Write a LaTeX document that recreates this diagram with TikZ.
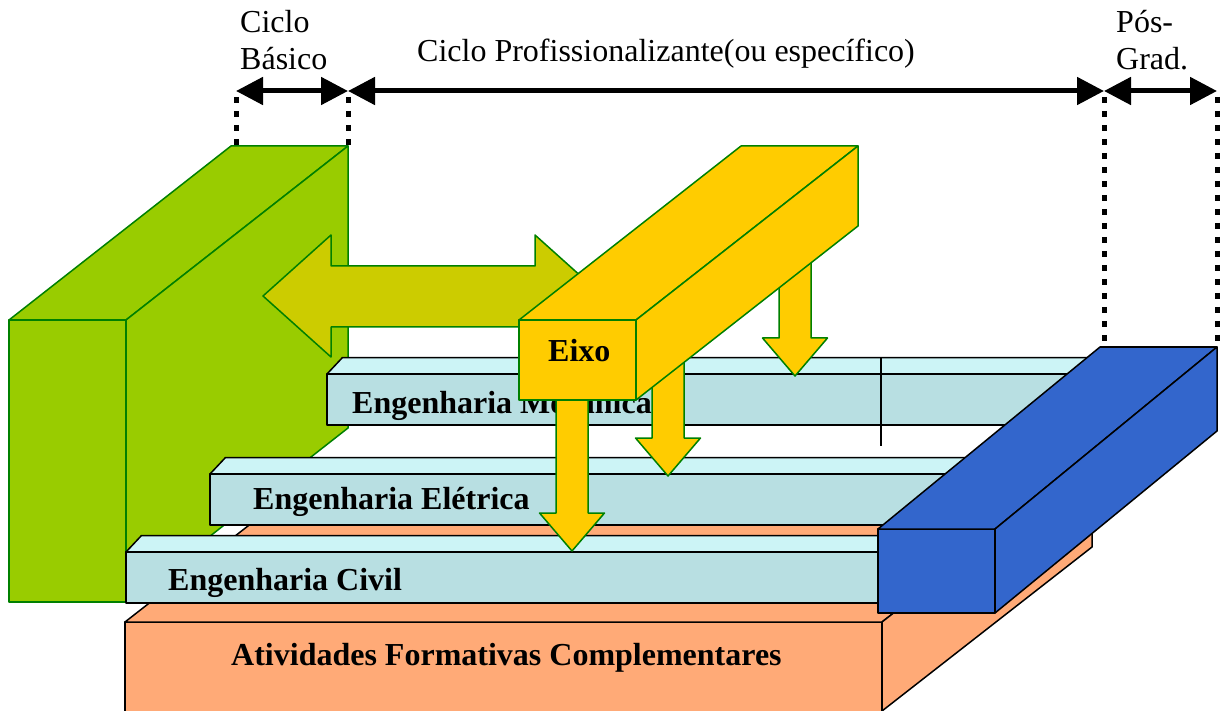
\documentclass[tikz,border=0pt]{standalone}
\usepackage{fontspec}
\setmainfont{Liberation Serif}
\usetikzlibrary{arrows.meta}
\definecolor{verdeclaro}{HTML}{99CC00}
\definecolor{verdeborda}{HTML}{008000}
\definecolor{oliva}{HTML}{CCCC00}
\definecolor{amarelo}{HTML}{FFCC00}
\definecolor{azul}{HTML}{3366CC}
\definecolor{laranja}{HTML}{FFAA77}
\definecolor{cianoclaro}{HTML}{CCF4F6}
\definecolor{ciano}{HTML}{B8DFE2}
\tikzset{face/.style={line width=1.5pt,line join=round}}
\tikzset{basico/.style={face,fill=verdeclaro,draw=verdeborda}}
\tikzset{seta/.style={face,fill=oliva,draw=verdeborda}}
\tikzset{eixo/.style={face,fill=amarelo,draw=verdeborda}}
\tikzset{posgrad/.style={face,fill=azul,draw=black}}
\tikzset{ativ/.style={face,fill=laranja,draw=black}}
\tikzset{curso/.style={face,fill=ciano,draw=black}}
\tikzset{cursotopo/.style={face,fill=cianoclaro,draw=black}}
\tikzset{cota/.style={line width=5pt,{Triangle[length=27pt,width=27pt]}-{Triangle[length=27pt,width=27pt]}}}
\tikzset{guia/.style={line width=5pt,dash pattern=on 6pt off 8pt}}
\tikzset{rotulo/.style={inner sep=0pt,anchor=base west}}
\tikzset{negrito/.style={rotulo,font=\fontsize{32}{37}\selectfont\bfseries}}

\begin{document}
\begin{tikzpicture}[x=1pt,y=-1pt,font=\fontsize{32}{37}\selectfont]
      \useasboundingbox (0,0) rectangle (1221,711);
      % atividades complementares
      \draw[ativ] (125,622) rectangle (882,720);
      \draw[ativ] (125,622) -- (335,458) -- (1092,458) -- (882,622) -- cycle;
      \draw[ativ] (882,622) -- (1092,458) -- (1092,547) -- (882,711) -- cycle;
      % ciclo basico
      \draw[basico] (9,320) rectangle (126,602);
      \draw[basico] (9,320) -- (231,146) -- (348,146) -- (126,320) -- cycle;
      \draw[basico] (126,320) -- (348,146) -- (348,428) -- (126,602) -- cycle;
      \draw[seta] (263,296) -- (331,235) -- (331,266) -- (535,266) -- (535,235) -- (603,296)
        -- (535,357) -- (535,327) -- (331,327) -- (331,357) -- cycle;
      % cursos
      \foreach \xa/\ya/\xb/\xt/\yt/\nome/\texto in
        {327/374/1100/352/413/mec/Engenharia Mecânica,
         210/474/1000/253/509/ele/Engenharia Elétrica,
         126/552/900/168/590/civ/Engenharia Civil}
      {
        \draw[cursotopo] (\xa,\ya) -- ++(15.5,-16.5) -- (\xb+15.5,\ya-16.5) -- (\xb,\ya) -- cycle;
        \draw[curso] (\xa,\ya) rectangle (\xb,\ya+51);
        \node[negrito] (\nome) at (\xt,\yt) {\texto};
      }
      \draw[line width=2.5pt] (881,357) -- (881,446);
      % eixo
      \foreach \xc/\ya/\yh in {572/380/513,668/340/438,795/240/338}
        \draw[eixo] (\xc-16,\ya) -- (\xc-16,\yh) -- (\xc-32.5,\yh) -- (\xc,\yh+38)
          -- (\xc+32.5,\yh) -- (\xc+16,\yh) -- (\xc+16,\ya) -- cycle;
      \draw[eixo] (519,320) rectangle (636,400);
      \draw[eixo] (519,320) -- (741,146) -- (858,146) -- (636,320) -- cycle;
      \draw[eixo] (636,320) -- (858,146) -- (858,226) -- (636,400) -- cycle;
      \node[negrito] (eixo) at (548,361) {Eixo};
      % pos-graduacao
      \draw[posgrad] (878,529) rectangle (995,613);
      \draw[posgrad] (878,529) -- (1100,347) -- (1217,347) -- (995,529) -- cycle;
      \draw[posgrad] (995,529) -- (1217,347) -- (1217,431) -- (995,613) -- cycle;
      \node[negrito] (ativ) at (231,665) {Atividades Formativas Complementares};
      % cotas
      \coordinate (b1) at (236,91);
      \coordinate (b2) at (348,91);
      \coordinate (p2) at (1104,91);
      \coordinate (g2) at (1217,91);
      \draw[cota] (b1) -- (b2);
      \draw[cota] (b2) -- (p2);
      \draw[cota] (p2) -- (g2);
      \draw[guia] (236,97) -- (236,146);
      \draw[guia] (348,97) -- (348,146);
      \draw[guia] (1104,97) -- (1104,347);
      \draw[guia] (1217,97) -- (1217,347);
      \node[rotulo,align=left] (basico) at (240,70) {Ciclo\\Básico};
      \node[rotulo] (prof) at (417,62) {Ciclo Profissionalizante(ou específico)};
      \node[rotulo,align=left] (pgrad) at (1116,70) {Pós-\\Grad.};
\end{tikzpicture}
\end{document}
